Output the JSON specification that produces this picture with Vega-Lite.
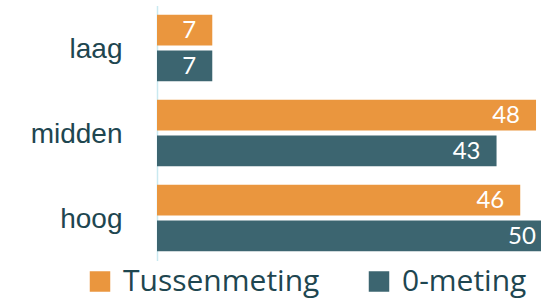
{
  "$schema": "https://vega.github.io/schema/vega-lite/v6.json",
  "width": 384,
  "height": 255,
  "autosize": {"type": "none"},
  "padding": {"left": 157, "top": 5.5, "right": 0, "bottom": 38.5},
  "background": "white",
  "config": {"view": {"stroke": null}},
  "data": {
    "values": [
      {"niveau": "laag", "meting": "Tussenmeting", "waarde": 7},
      {"niveau": "laag", "meting": "0-meting", "waarde": 7},
      {"niveau": "midden", "meting": "Tussenmeting", "waarde": 48},
      {"niveau": "midden", "meting": "0-meting", "waarde": 43},
      {"niveau": "hoog", "meting": "Tussenmeting", "waarde": 46},
      {"niveau": "hoog", "meting": "0-meting", "waarde": 50}
    ]
  },
  "encoding": {
    "y": {
      "field": "niveau",
      "type": "nominal",
      "sort": ["laag", "midden", "hoog"],
      "scale": {"paddingInner": 0.22, "paddingOuter": 0.11},
      "axis": {
        "title": null,
        "ticks": false,
        "domain": true,
        "domainColor": "#c9e9f0",
        "domainWidth": 1.5,
        "labelFont": "Liberation Sans",
        "labelFontSize": 28,
        "labelColor": "#1e4650",
        "labelPadding": 35,
        "labelOffset": 2,
        "labelAlign": "right"
      }
    },
    "yOffset": {
      "field": "meting",
      "type": "nominal",
      "sort": ["Tussenmeting", "0-meting"],
      "scale": {"paddingInner": 0.14}
    },
    "x": {
      "field": "waarde",
      "type": "quantitative",
      "scale": {"domain": [0, 48.63], "nice": false, "zero": true},
      "axis": null
    }
  },
  "layer": [
    {
      "mark": {"type": "bar", "clip": true, "cornerRadius": 0},
      "encoding": {
        "color": {
          "field": "meting",
          "type": "nominal",
          "sort": ["Tussenmeting", "0-meting"],
          "scale": {"domain": ["Tussenmeting", "0-meting"], "range": ["#ea963e", "#3c6570"]},
          "legend": {
            "title": null,
            "orient": "none",
            "direction": "horizontal",
            "legendX": -72,
            "legendY": 261,
            "symbolType": "square",
            "symbolSize": 420,
            "symbolStrokeWidth": 0,
            "labelFont": "Open Sans",
            "labelFontSize": 30,
            "labelColor": "#1e4650",
            "labelOffset": 8,
            "columnPadding": 44,
            "labelLimit": 400
          }
        }
      }
    },
    {
      "mark": {
        "type": "text",
        "align": "right",
        "baseline": "middle",
        "dx": -16,
        "dy": 1,
        "color": "white",
        "font": "Lato",
        "fontSize": 24
      },
      "encoding": {
        "text": {"field": "waarde", "type": "quantitative"}
      }
    }
  ]
}
